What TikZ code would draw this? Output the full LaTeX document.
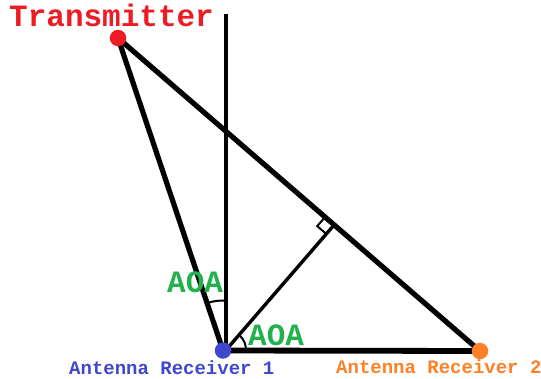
\documentclass[tikz,border=0pt]{standalone}
\usepackage{fontspec}
\setmainfont{Liberation Mono}
\usetikzlibrary{calc}
\definecolor{pred}{RGB}{237,28,36}
\definecolor{pgreen}{RGB}{34,177,76}
\definecolor{pblue}{RGB}{63,72,204}
\definecolor{porange}{RGB}{255,127,39}
\tikzset{
  thick line/.style={line width=5.2pt, line cap=round},
  thin line/.style={line width=3.4pt},
  mark line/.style={line width=2pt},
  dot/.style={circle, fill=#1, minimum size=16.5pt, inner sep=0pt},
  lbl/.style={inner sep=0pt, anchor=base west, font=\bfseries\fontsize{#1}{#1}\selectfont},
}
\begin{document}
\begin{tikzpicture}[x=1pt,y=1pt]
\useasboundingbox (0,0) rectangle (541,378);
\coordinate (T) at (118,340);
\coordinate (R1) at (223,27.5);
\coordinate (R2) at (480,27);
\coordinate (V) at (226,28);
\coordinate (top) at (226,364);
\coordinate (F) at ($(T)!(V)!(R2)$);
\coordinate (FA) at ($(F)!12pt!(T)$);
\coordinate (FB) at ($(F)!12pt!(V)$);
\coordinate (FC) at ($(FA)+(FB)-(F)$);
% lines
\draw[thin line] (top) -- (V);
\draw[thin line] (V) -- (F);
\draw[thick line] (T) -- (R1);
\draw[thick line] (T) -- (R2);
\draw[line width=5.8pt] (R1) -- (R2);
% right angle
\draw[mark line] (FA) -- (FC) -- (FB);
% angle arcs
\draw[mark line] ([shift={(108.5:50)}]R1) arc[start angle=108.5, end angle=86.6, radius=50];
\draw[mark line] ([shift={(45:20)}]V) arc[start angle=45, end angle=0, radius=20];
% dots
\node[dot=pred] (t) at (T) {};
\node[dot=pblue] (r1) at (R1) {};
\node[dot=porange] (r2) at (R2) {};
% labels
\node[lbl=31, text=pred] (tl) at (9,351) {Transmitter};
\node[lbl=31, text=pgreen] (a1) at (167,86) {AOA};
\node[lbl=31, text=pgreen] (a2) at (248,33) {AOA};
\node[lbl=19, text=pblue] (l1) at (69,4) {Antenna Receiver 1};
\node[lbl=19, text=porange] (l2) at (336,5) {Antenna Receiver 2};
\end{tikzpicture}
\end{document}
